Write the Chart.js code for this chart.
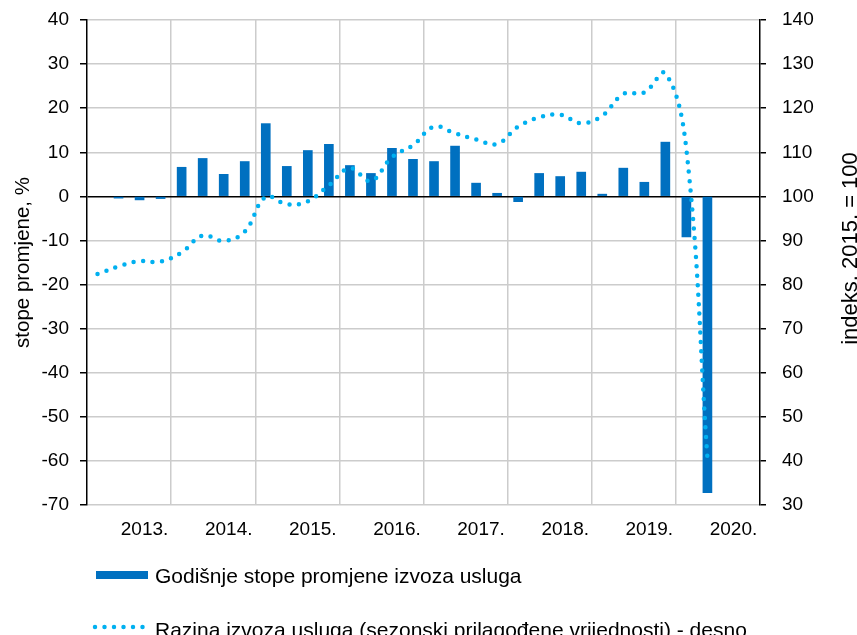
<!DOCTYPE html>
<html>
<head>
<meta charset="utf-8">
<title>Izvoz usluga</title>
<script src="https://cdn.jsdelivr.net/npm/chart.js@4.4.1/dist/chart.umd.min.js"></script>
<style>
  html, body { margin: 0; padding: 0; background: #fff; }
  #wrap { width: 857px; height: 635px; position: relative; }
</style>
</head>
<body>
<div id="wrap"><canvas id="chart"></canvas></div>
<script>
// --- data: quarters 2013 Q1 .. 2020 Q4 ---
const quarters = [
    '2013 Q1', '2013 Q2', '2013 Q3', '2013 Q4',
    '2014 Q1', '2014 Q2', '2014 Q3', '2014 Q4',
    '2015 Q1', '2015 Q2', '2015 Q3', '2015 Q4',
    '2016 Q1', '2016 Q2', '2016 Q3', '2016 Q4',
    '2017 Q1', '2017 Q2', '2017 Q3', '2017 Q4',
    '2018 Q1', '2018 Q2', '2018 Q3', '2018 Q4',
    '2019 Q1', '2019 Q2', '2019 Q3', '2019 Q4',
    '2020 Q1', '2020 Q2', '2020 Q3', '2020 Q4'
];
const yearLabels = ['2013.', '2014.', '2015.', '2016.', '2017.', '2018.', '2019.', '2020.'];

// godisnje stope promjene, % (lijeva os)
const annualRates = [
    null, -0.4, -0.8, -0.5,
    6.6, 8.6, 5.0, 7.9,
    16.5, 6.8, 10.4, 11.8,
    7.0, 5.2, 10.9, 8.4,
    7.9, 11.4, 3.0, 0.7,
    -1.2, 5.2, 4.5, 5.5,
    0.5, 6.4, 3.2, 12.3,
    -9.2, -67.2, null, null
];

// razina izvoza, indeks 2015. = 100 (desna os)
const levelIndex = [
    82.4, 84.1, 85.3, 85.2,
    87.3, 91.1, 89.9, 92.0,
    99.9, 98.2, 98.9, 102.5,
    106.4, 103.5, 108.9, 111.6,
    115.8, 114.3, 112.9, 111.9,
    115.8, 117.9, 118.5, 116.6,
    118.3, 123.2, 123.6, 127.9,
    110.6, 40.6, null, null
];

const leftTicks = { min: -70, max: 40, step: 10 };
const rightTicks = { min: 30, max: 140, step: 10 };

const FONT = 'Arial, "Liberation Sans", sans-serif';
const GRID = '#cccccc';

// legend + right axis title (reads bottom-to-top like the left one)
const extras = {
    id: 'extras',
    afterDraw(chart) {
        const ctx = chart.ctx;
        const [bars, line] = chart.data.datasets;
        ctx.save();
        ctx.font = '21px ' + FONT;
        ctx.textBaseline = 'alphabetic';

        ctx.fillStyle = bars.backgroundColor;
        ctx.fillRect(96, 571, 52, 8);
        ctx.fillStyle = '#000';
        ctx.fillText(bars.label, 155, 583);

        ctx.strokeStyle = line.borderColor;
        ctx.lineWidth = line.borderWidth;
        ctx.lineCap = 'round';
        ctx.setLineDash(line.borderDash);
        ctx.beginPath();
        ctx.moveTo(95, 627);
        ctx.lineTo(148, 627);
        ctx.stroke();
        ctx.setLineDash([]);
        ctx.fillText(line.label, 155, 637);

        const y1 = chart.scales.y1;
        ctx.translate(851, (y1.top + y1.bottom) / 2 - 14);
        ctx.rotate(-Math.PI / 2);
        ctx.textAlign = 'center';
        ctx.textBaseline = 'middle';
        ctx.font = '22px ' + FONT;
        ctx.fillText('indeks. 2015. = 100', 0, 0);
        ctx.restore();
    }
};

// fixed axis widths, no extra top/bottom padding for tick labels
const fitY = w => s => { s.width = w; s.paddingTop = 0; s.paddingBottom = 0; };

new Chart(document.getElementById('chart'), {
    type: 'bar',
    data: {
        labels: quarters,
        datasets: [{
            label: 'Godišnje stope promjene izvoza usluga',
            data: annualRates,
            backgroundColor: '#0070C0',
            barThickness: 9,
            yAxisID: 'y',
            order: 1
        }, {
            type: 'line',
            label: 'Razina izvoza usluga (sezonski prilagođene vrijednosti) - desno',
            data: levelIndex,
            borderColor: '#00B0F0',
            borderWidth: 4.5,
            borderDash: [0, 9.5],
            borderCapStyle: 'round',
            pointRadius: 0,
            tension: 0.4,
            fill: false,
            yAxisID: 'y1',
            order: 0
        }]
    },
    options: {
        responsive: true,
        maintainAspectRatio: false,
        animation: false,
        layout: { padding: { top: 20, bottom: 100, left: 0, right: 0 } },
        plugins: {
            legend: { display: false },
            tooltip: { enabled: false }
        },
        scales: {
            x: {
                offset: true,
                afterFit: s => { s.height = 30; },
                border: { display: false },
                grid: {
                    offset: true,
                    drawTicks: false,
                    lineWidth: 1.5,
                    color: c => (c.index > 0 && c.index % 4 === 0) ? GRID : 'transparent'
                },
                ticks: {
                    autoSkip: false,
                    maxRotation: 0,
                    padding: 13,
                    labelOffset: 5,
                    color: '#000',
                    font: { family: FONT, size: 19 },
                    callback: (v, i) => (i % 4 === 2) ? yearLabels[Math.floor(i / 4)] : ''
                }
            },
            y: {
                position: 'left',
                min: leftTicks.min,
                max: leftTicks.max,
                afterFit: fitY(87),
                border: { color: '#000', width: 1.5 },
                grid: {
                    color: c => c.tick && c.tick.value === 0 ? '#000' : GRID,
                    lineWidth: 1.5,
                    tickLength: 7,
                    tickColor: '#000'
                },
                ticks: {
                    stepSize: leftTicks.step,
                    padding: 11,
                    color: '#000',
                    font: { family: FONT, size: 19 }
                },
                title: {
                    display: true,
                    text: 'stope promjene, %',
                    color: '#000',
                    padding: { top: 11, bottom: 0 },
                    font: { family: FONT, size: 20.5 }
                }
            },
            y1: {
                position: 'right',
                min: rightTicks.min,
                max: rightTicks.max,
                afterFit: fitY(97),
                border: { color: '#000', width: 1.5 },
                grid: {
                    drawOnChartArea: false,
                    tickLength: 6,
                    tickColor: '#000',
                    lineWidth: 1.5
                },
                ticks: {
                    stepSize: rightTicks.step,
                    padding: 16,
                    color: '#000',
                    font: { family: FONT, size: 19 }
                }
            }
        }
    },
    plugins: [extras]
});
</script>
</body>
</html>
